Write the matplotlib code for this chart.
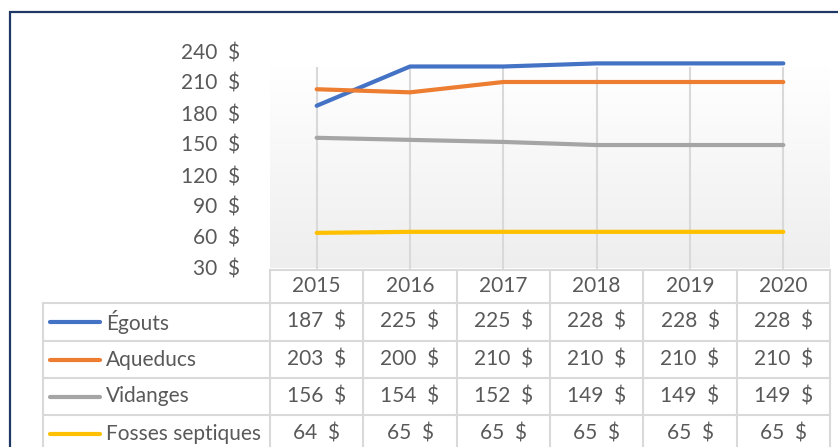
import matplotlib
matplotlib.use("Agg")
import matplotlib.pyplot as plt
from matplotlib.colors import LinearSegmentedColormap
from matplotlib.lines import Line2D
from matplotlib.patches import Rectangle
import numpy as np

YEARS = ["2015", "2016", "2017", "2018", "2019", "2020"]
SERIES = ["Égouts", "Aqueducs", "Vidanges", "Fosses septiques"]
EGOUTS = [187, 225, 225, 228, 228, 228]
AQUEDUCS = [203, 200, 210, 210, 210, 210]
VIDANGES = [156, 154, 152, 149, 149, 149]
FOSSES = [64, 65, 65, 65, 65, 65]
VALUES = [EGOUTS, AQUEDUCS, VIDANGES, FOSSES]
COLORS = ["#4472C4", "#ED7D31", "#A5A5A5", "#FFC000"]
YTICKS = [30, 60, 90, 120, 150, 180, 210, 240]

W, H = 838, 447
TXT = "#595959"
GRID = "#D9D9D9"
FONT = "Lato"
FS = 15

plt.rcParams["font.family"] = [FONT, "DejaVu Sans"]

fig = plt.figure(figsize=(W / 100, H / 100), dpi=100)


def fx(px):
    return px / W


def fy(py):
    return 1 - py / H


def money(v):
    return f"{v}  $"


# dark frame around the chart (runs off the right and bottom edges)
fig.patches.append(Rectangle((fx(10), fy(460)), fx(840), fy(12) - fy(460),
                             transform=fig.transFigure, fill=False,
                             edgecolor="#1F3864", linewidth=1.6))

# plot area
ax_l, ax_r, ax_t, ax_b = 270, 830, 51, 268
ax = fig.add_axes([fx(ax_l), fy(ax_b), fx(ax_r - ax_l), fy(ax_t) - fy(ax_b)])
ax.set_xlim(-0.5, len(YEARS) - 0.5)
ax.set_ylim(30, 240)
for s in ax.spines.values():
    s.set_visible(False)
ax.set_xticks([])
ax.set_yticks(YTICKS)
ax.set_yticklabels([money(v) for v in YTICKS], color=TXT, fontsize=FS)
ax.tick_params(axis="y", length=0, pad=21.6)
ax.patch.set_alpha(0)

# gradient background (white to light grey)
grad_top = 224.5
cmap = LinearSegmentedColormap.from_list("bg", ["#FFFFFF", "#EEEEEE"])
ax.imshow(np.linspace(0, 1, 256).reshape(-1, 1), cmap=cmap, aspect="auto",
          extent=[-0.5, len(YEARS) - 0.5, 30, grad_top], origin="upper", zorder=0)

x = np.arange(len(YEARS))
ax.vlines(x, 28, grad_top, colors=GRID, linewidth=1.5, zorder=1, clip_on=False)

for vals, c in zip(VALUES, COLORS):
    ax.plot(x, vals, color=c, linewidth=3, solid_capstyle="round",
            solid_joinstyle="round", zorder=3, clip_on=False)

# data table below the plot
col_w = (ax_r - ax_l) / len(YEARS)
col_edges = [ax_l + i * col_w for i in range(len(YEARS) + 1)]
rows = [270, 303, 341, 378, 415, 452]
left = 43


def hline(x0, x1, y):
    fig.add_artist(Line2D([fx(x0), fx(x1)], [fy(y), fy(y)], color=GRID,
                          linewidth=1.5, transform=fig.transFigure))


def vline(xp, y0, y1):
    fig.add_artist(Line2D([fx(xp), fx(xp)], [fy(y0), fy(y1)], color=GRID,
                          linewidth=1.5, transform=fig.transFigure))


hline(ax_l, col_edges[-1], rows[0])
for r in rows[1:]:
    hline(left, col_edges[-1], r)
for e in col_edges:
    vline(e, rows[0], rows[-1])
vline(left, rows[1], rows[-1])

for i, yr in enumerate(YEARS):
    cx = (col_edges[i] + col_edges[i + 1]) / 2
    fig.text(fx(cx), fy((rows[0] + rows[1]) / 2), yr, ha="center", va="center",
             color=TXT, fontsize=FS)

for j, (name, vals, c) in enumerate(zip(SERIES, VALUES, COLORS)):
    cy = (rows[j + 1] + rows[j + 2]) / 2
    fig.add_artist(Line2D([fx(50), fx(100)], [fy(cy), fy(cy)], color=c,
                          linewidth=3, solid_capstyle="round",
                          transform=fig.transFigure))
    fig.text(fx(106), fy(cy), name, ha="left", va="center", color=TXT, fontsize=FS)
    for i, v in enumerate(vals):
        cx = (col_edges[i] + col_edges[i + 1]) / 2
        fig.text(fx(cx), fy(cy), money(v), ha="center", va="center",
                 color=TXT, fontsize=FS)

fig.savefig("out.png", dpi=100, facecolor="white")
